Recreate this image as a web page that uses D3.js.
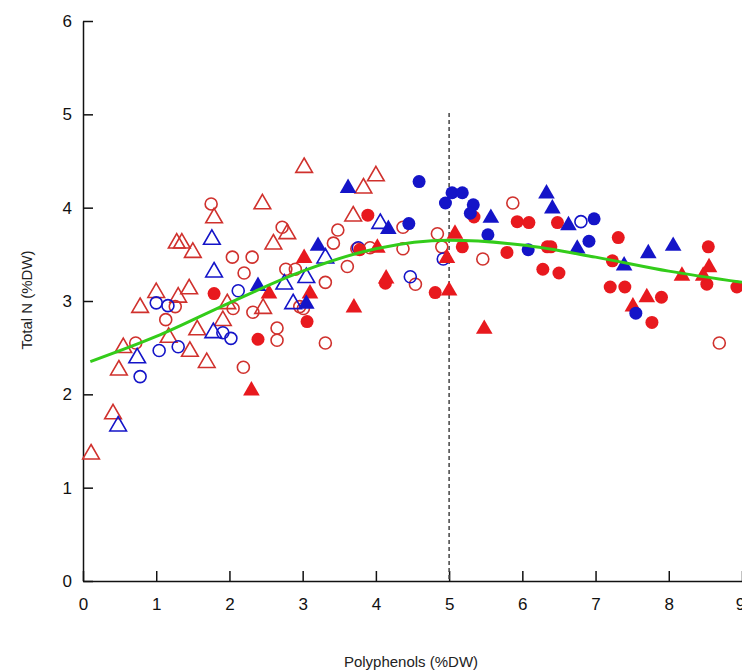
<!DOCTYPE html>
<html><head><meta charset="utf-8">
<script src="https://cdn.jsdelivr.net/npm/d3@7"></script>
<style>body{margin:0;background:#fff}text{font-family:Arial,"Liberation Sans",sans-serif}</style>
</head><body><svg id="chart"></svg>
<script>
// data: [polyphenols, total N]
const redOpenTri = [[0.11,1.37],[0.41,1.80],[0.49,2.27],[0.55,2.51],[0.78,2.94],[1.00,3.10],[1.28,3.63],[1.35,3.63],[1.50,3.53],[1.45,3.14],[1.30,3.05],[1.17,2.62],[1.46,2.47],[1.69,2.35],[1.56,2.70],[1.79,3.90],[1.97,2.98],[1.91,2.80],[2.45,4.05],[2.60,3.62],[2.79,3.73],[2.46,2.93],[3.02,4.44],[4.00,4.35],[3.83,4.22],[3.69,3.92]];
const redOpenCirc = [[1.75,4.04],[2.04,3.47],[2.31,3.47],[2.20,3.30],[2.72,3.79],[2.77,3.34],[2.90,3.34],[0.72,2.55],[1.13,2.80],[1.26,2.94],[2.05,2.92],[2.32,2.88],[2.65,2.71],[2.65,2.58],[2.19,2.29],[2.96,2.94],[3.48,3.76],[3.42,3.62],[4.37,3.79],[3.74,3.56],[3.92,3.57],[4.37,3.56],[4.84,3.72],[4.90,3.58],[3.61,3.37],[3.31,3.20],[4.54,3.18],[5.46,3.45],[5.87,4.05],[3.31,2.55],[3.01,2.92],[8.69,2.55]];
const blueOpenCirc = [[1.00,2.98],[1.16,2.95],[0.78,2.19],[1.04,2.47],[1.30,2.51],[1.91,2.66],[2.02,2.60],[2.12,3.11],[4.47,3.26],[4.92,3.45],[3.76,3.57],[6.80,3.85]];
const blueOpenTri = [[0.48,1.67],[0.74,2.40],[1.76,3.67],[1.79,3.32],[1.78,2.67],[2.75,3.19],[2.87,2.98],[4.06,3.84],[3.31,3.47],[3.05,3.26]];
const redFillCirc = [[1.79,3.08],[2.39,2.59],[3.06,2.78],[3.89,3.92],[5.34,3.90],[5.93,3.85],[3.78,3.55],[5.18,3.58],[5.79,3.52],[4.13,3.19],[4.81,3.09],[6.09,3.84],[6.48,3.84],[6.34,3.58],[6.39,3.58],[6.28,3.34],[6.50,3.30],[7.31,3.68],[7.23,3.43],[7.20,3.15],[7.40,3.15],[7.90,3.04],[7.77,2.77],[8.54,3.58],[8.52,3.18],[8.93,3.15]];
const redFillTri = [[2.30,2.05],[2.54,3.09],[3.02,3.47],[4.02,3.58],[4.97,3.47],[5.08,3.73],[4.14,3.25],[5.00,3.12],[3.70,2.94],[5.48,2.71],[3.10,3.09],[7.70,3.05],[7.51,2.95],[8.18,3.28],[8.47,3.28],[8.55,3.37]];
const blueFillCirc = [[4.59,4.28],[5.04,4.16],[5.18,4.16],[4.95,4.05],[5.33,4.03],[5.29,3.94],[4.45,3.83],[5.53,3.71],[6.98,3.88],[6.91,3.64],[6.08,3.55],[7.55,2.87]];
const blueFillTri = [[2.39,3.17],[3.05,2.98],[3.62,4.22],[3.21,3.60],[4.17,3.78],[5.57,3.90],[6.33,4.16],[6.41,4.00],[6.63,3.82],[6.75,3.57],[7.39,3.39],[7.72,3.52],[8.06,3.60]];
const fitCurve = [[0.1,2.35],[1,2.62],[2,2.98],[3,3.32],[4,3.56],[5,3.65],[6,3.60],[7,3.47],[8,3.32],[9,3.20]];
const xTicks = [0,1,2,3,4,5,6,7,8,9];
const yTicks = [0,1,2,3,4,5,6];
const cutoff = 5;

const width = 742, height = 672;
const svg = d3.select("#chart").attr("width", width).attr("height", height);
const x = d3.scaleLinear().domain([0, 9]).range([83, 742]);
const y = d3.scaleLinear().domain([0, 6]).range([581, 21]);

const RED = "#e8191e", REDO = "#d0312d", BLUE = "#1414c8";

// axes, ticks pointing inward
const yAxis = svg.append("g").attr("transform", "translate(83,0)")
  .call(d3.axisLeft(y).tickValues(yTicks).tickFormat(d3.format("d")).tickSizeInner(-10).tickSizeOuter(0).tickPadding(11));
const xAxis = svg.append("g").attr("transform", "translate(0,581)")
  .call(d3.axisBottom(x).tickValues(xTicks).tickFormat(d3.format("d")).tickSizeInner(-10).tickSizeOuter(0).tickPadding(17));
[xAxis, yAxis].forEach(a => {
  a.select(".domain").attr("stroke", "#111").attr("stroke-width", 1.5);
  a.selectAll("line").attr("stroke", "#111").attr("stroke-width", 1.5);
  a.selectAll("text").attr("font-size", 17).attr("fill", "#111");
});
xAxis.selectAll(".tick").filter(d => d === 9).select("text").attr("dx", -2);

svg.append("line")
  .attr("x1", x(cutoff)).attr("x2", x(cutoff)).attr("y1", 113).attr("y2", 581)
  .attr("stroke", "#444").attr("stroke-width", 1.5).attr("stroke-dasharray", "4,3");

const tri = d3.symbol().type(d3.symbolTriangle).size(120);
function plot(data, shape, color, filled) {
  const g = svg.append("g");
  if (shape === "circle") {
    g.selectAll("circle").data(data).join("circle")
      .attr("cx", d => x(d[0])).attr("cy", d => y(d[1])).attr("r", filled ? 6.5 : 6)
      .attr("fill", filled ? color : "none").attr("stroke", color).attr("stroke-width", filled ? 0 : 1.6);
  } else {
    g.selectAll("path").data(data).join("path")
      .attr("d", tri).attr("transform", d => `translate(${x(d[0])},${y(d[1]) + 1})`)
      .attr("fill", filled ? color : "none").attr("stroke", color).attr("stroke-width", filled ? 0 : 1.6);
  }
}
plot(redOpenTri, "tri", REDO, false);
plot(redOpenCirc, "circle", REDO, false);
plot(blueOpenCirc, "circle", BLUE, false);
plot(blueOpenTri, "tri", BLUE, false);
plot(redFillCirc, "circle", RED, true);
plot(redFillTri, "tri", RED, true);
plot(blueFillCirc, "circle", BLUE, true);
plot(blueFillTri, "tri", BLUE, true);

svg.append("path").datum(fitCurve)
  .attr("d", d3.line().x(d => x(d[0])).y(d => y(d[1])).curve(d3.curveMonotoneX))
  .attr("fill", "none").attr("stroke", "#33cc1a").attr("stroke-width", 3);

svg.append("text").attr("x", 411).attr("y", 667).attr("text-anchor", "middle")
  .attr("font-size", 15).attr("fill", "#222").text("Polyphenols (%DW)");
svg.append("text").attr("transform", "translate(32,300) rotate(-90)").attr("text-anchor", "middle")
  .attr("font-size", 15).attr("fill", "#222").text("Total N (%DW)");
</script></body></html>
